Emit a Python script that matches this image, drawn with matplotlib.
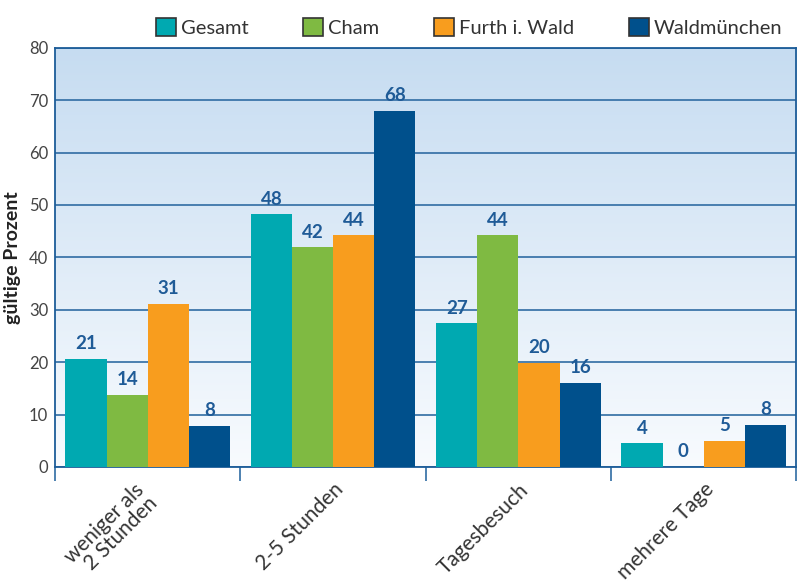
import numpy as np
import matplotlib.pyplot as plt
from matplotlib.patches import Patch
from matplotlib.colors import LinearSegmentedColormap
import matplotlib.transforms as mtransforms

plt.rcParams['font.family'] = ['Lato', 'DejaVu Sans']

categories = ["weniger als\n2 Stunden", "2-5 Stunden", "Tagesbesuch", "mehrere Tage"]
series = ["Gesamt", "Cham", "Furth i. Wald", "Waldmünchen"]
gesamt = [20.7, 48.2, 27.4, 4.5]
cham = [13.8, 41.9, 44.2, 0.0]
furth = [31.2, 44.2, 19.9, 4.9]
waldmuenchen = [7.9, 67.9, 16.1, 8.1]
colors = ["#00a9b1", "#7fba42", "#f89d1e", "#00508c"]

values = [gesamt, cham, furth, waldmuenchen]

fig = plt.figure(figsize=(7.98, 5.83), dpi=100)
ax = fig.add_axes([0.069, 0.199, 0.929, 0.719])

# background gradient, light blue at the top fading to white
grad = LinearSegmentedColormap.from_list("bg", ["#f8fbfe", "#c6dcf1"])
ax.imshow(np.linspace(0, 1, 256).reshape(-1, 1), cmap=grad, origin="lower",
          extent=[0, 1, 0, 1], transform=ax.transAxes, aspect="auto", zorder=0)

x = np.arange(len(categories))
width = 0.222
for i, (name, vals, col) in enumerate(zip(series, values, colors)):
    pos = x + (i - 1.5) * width
    ax.bar(pos, vals, width, color=col, zorder=3, label=name)
    for p, v in zip(pos, vals):
        ax.text(p, v + 1.3, f"{v:.0f}", ha="center", va="bottom",
                fontsize=13.5, fontweight="bold", color="#1f5b97", zorder=4)

ax.set_xlim(-0.5, 3.5)
ax.set_ylim(0, 80)
ax.set_yticks(range(0, 81, 10))
ax.yaxis.grid(True, color="#2f6ca3", linewidth=1.2, zorder=1)
ax.set_axisbelow(True)
ax.tick_params(axis="y", length=0, labelsize=12, labelcolor="#444444", pad=5)

ax.set_xticks(x)
ax.set_xticklabels(categories, rotation=45, ha="right", fontsize=15,
                   color="#333333", linespacing=0.95)
ax.set_xticks(np.arange(-0.5, 4, 1), minor=True)
ax.tick_params(axis="x", which="major", length=0, pad=9)
ax.tick_params(axis="x", which="minor", length=10, width=1.2, color="#2f6ca3")
offset = mtransforms.ScaledTranslation(0.14, 0, fig.dpi_scale_trans)
for lab in ax.get_xticklabels():
    lab.set_transform(lab.get_transform() + offset)

for s in ax.spines.values():
    s.set_color("#1d5d99")
    s.set_linewidth(1.3)

ax.set_ylabel("gültige Prozent", fontsize=14, fontweight="bold", color="#222222", labelpad=6)

handles = [Patch(facecolor=c, edgecolor="#333333", linewidth=1.2) for c in colors]
fig.legend(handles, series, loc="center", bbox_to_anchor=(0.588, 0.953), ncol=4,
           frameon=False, fontsize=14.5, handlelength=1.0, handleheight=1.0,
           handletextpad=0.25, columnspacing=2.7, labelcolor="#333333",
           borderaxespad=0, borderpad=0)

fig.savefig("out.png", dpi=100)
